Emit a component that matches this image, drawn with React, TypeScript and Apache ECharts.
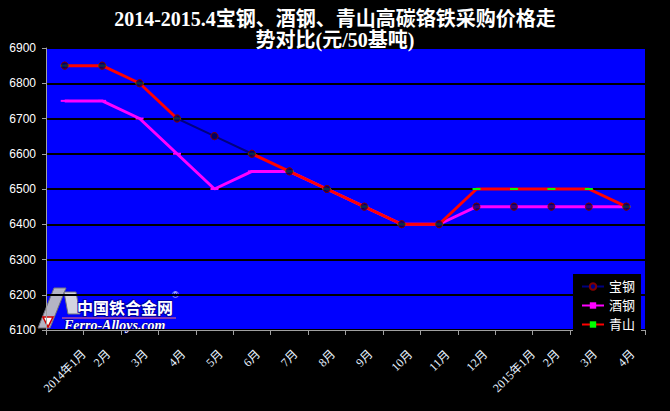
import React, { useEffect, useRef } from "react";
import * as echarts from "echarts";

const categories = ["2014年1月", "2月", "3月", "4月", "5月", "6月", "7月", "8月", "9月", "10月", "11月", "12月", "2015年1月", "2月", "3月", "4月"];
const baogang = [6850, 6850, 6800, 6700, 6650, 6600, 6550, 6500, 6450, 6400, 6400, 6450, 6450, 6450, 6450, 6450];
const jiugang = [6750, 6750, 6700, 6600, 6500, 6550, 6550, 6500, 6450, 6400, 6400, 6450, 6450, 6450, 6450, 6450];
const qingshan = [6850, 6850, 6800, 6700, null, 6600, 6550, 6500, 6450, 6400, 6400, 6500, 6500, 6500, 6500, 6450];
const seriesNames = ["宝钢", "酒钢", "青山"];
const titleLines = ["2014-2015.4宝钢、酒钢、青山高碳铬铁采购价格走", "势对比(元/50基吨)"];

const serif = "'Liberation Serif', 'DejaVu Serif', 'Noto Sans CJK SC', serif";

// Excel-style placement of 45° labels: estimate label length, then pad so the
// rotated label's bounding box hangs below the axis like in the reference.
function labelWidth(s: string): number {
  let w = 0;
  for (const ch of s) w += /[0-9]/.test(ch) ? 6 : 12;
  return w;
}

export default function App() {
  const ref = useRef<HTMLDivElement>(null);
  useEffect(() => {
    if (!ref.current) return;
    const chart = echarts.init(ref.current, null, { renderer: "svg" });
    const xData = categories.map((c) => {
      const L = labelWidth(c);
      const pr = Math.round(31.4 + 0.5 * L);
      const pt = Math.round(9.7 + 0.25 * L);
      return {
        value: c,
        textStyle: {
          align: "center",
          verticalAlign: "top",
          lineHeight: 12,
          padding: [pt, pr, 0, 0],
        },
      };
    });
    const titleStyle = { color: "#ffffff", fontSize: 20, fontWeight: "bold", fontFamily: serif };
    chart.setOption({
      animation: false,
      backgroundColor: "#000000",
      title: [
        { text: titleLines[0], left: "center", top: 5, padding: 0, textStyle: { ...titleStyle, lineHeight: 28 } },
        { text: titleLines[1], left: "center", top: 29, padding: 0, textStyle: { ...titleStyle, lineHeight: 22 } },
      ],
      grid: {
        left: 46,
        top: 48,
        width: 599,
        height: 282,
        show: true,
        backgroundColor: "#0000ff",
        borderWidth: 0,
        containLabel: false,
        outerBoundsMode: "none",
      },
      legend: {
        data: seriesNames,
        orient: "vertical",
        left: 573,
        top: 274,
        backgroundColor: "#000000",
        padding: [6, 6, 6, 8],
        itemGap: 6,
        itemWidth: 22,
        itemHeight: 8,
        textStyle: { color: "#ffffff", fontSize: 13, fontFamily: serif },
      },
      xAxis: {
        type: "category",
        data: xData,
        boundaryGap: true,
        axisLine: { lineStyle: { color: "#a0a0a0", width: 1 } },
        axisTick: { show: true, length: 5, lineStyle: { color: "#a0a0a0" } },
        axisLabel: {
          rotate: 45,
          interval: 0,
          hideOverlap: false,
          color: "#e6f2ff",
          fontSize: 12,
          fontFamily: serif,
          margin: 0,
        },
      },
      yAxis: {
        type: "value",
        min: 6100,
        max: 6900,
        interval: 100,
        axisLine: { show: true, lineStyle: { color: "#a0a0a0" } },
        axisTick: { show: true, length: 4, lineStyle: { color: "#a0a0a0" } },
        axisLabel: {
          color: "#ffffff",
          fontSize: 12,
          fontFamily: "'Liberation Sans', Arial, sans-serif",
          margin: 10,
          formatter: (v: number) => String(v),
        },
        splitLine: { show: true, lineStyle: { color: "#000000", width: 2 } },
      },
      graphic: [
        {
          type: "polygon",
          shape: { points: [[54, 288], [66, 288], [50, 328], [38, 328]] },
          style: { fill: "#b4b4c4", stroke: "#70707c", lineWidth: 1 },
        },
        {
          type: "polygon",
          shape: { points: [[64, 292], [76, 292], [80, 314], [68, 314]] },
          style: { fill: "#d4d4e0", stroke: "#70707c", lineWidth: 1 },
        },
        {
          type: "polygon",
          shape: { points: [[43, 317], [53, 317], [48, 327]] },
          style: { fill: "#ffffff", stroke: "#d00000", lineWidth: 1.5 },
        },
        {
          type: "text",
          x: 77,
          y: 299,
          style: { text: "中国铁合金网", fill: "#ffffff", stroke: "#0000a0", lineWidth: 2, font: "bold 16px 'Noto Sans CJK SC'" },
        },
        {
          type: "line",
          shape: { x1: 62, y1: 318, x2: 176, y2: 318 },
          style: { stroke: "#ff7070", lineWidth: 1 },
        },
        {
          type: "text",
          x: 64,
          y: 318,
          style: { text: "Ferro-Alloys.com", fill: "#ffffff", stroke: "#000080", lineWidth: 1, font: "italic bold 14px 'Liberation Serif'" },
        },
        {
          type: "text",
          x: 172,
          y: 290,
          style: { text: "®", fill: "#ffffff", font: "9px 'Liberation Sans'" },
        },
      ],
      series: [
        {
          name: "宝钢",
          type: "line",
          data: baogang,
          z: 2,
          symbol: "circle",
          symbolSize: 7,
          lineStyle: { color: "#000080", width: 2 },
          itemStyle: { color: "#000080", borderColor: "#800000", borderWidth: 1 },
        },
        {
          name: "酒钢",
          type: "line",
          data: jiugang,
          z: 3,
          symbol: "rect",
          symbolSize: [8, 2],
          lineStyle: { color: "#ff00ff", width: 3 },
          itemStyle: { color: "#ff00ff" },
        },
        {
          name: "青山",
          type: "line",
          data: qingshan,
          z: 4,
          connectNulls: false,
          symbol: "rect",
          symbolSize: [8, 2],
          lineStyle: { color: "#ff0000", width: 3 },
          itemStyle: { color: "#00ff00" },
        },
        {
          type: "scatter",
          data: baogang,
          z: 5,
          symbol: "circle",
          symbolSize: 7,
          itemStyle: { color: "#000060", borderColor: "#800000", borderWidth: 1 },
          silent: true,
        },
      ],
    });
    return () => chart.dispose();
  }, []);
  return (
    <div
      ref={ref}
      style={{ position: "fixed", left: 0, top: 0, width: 670, height: 411, background: "#000" }}
    />
  );
}
